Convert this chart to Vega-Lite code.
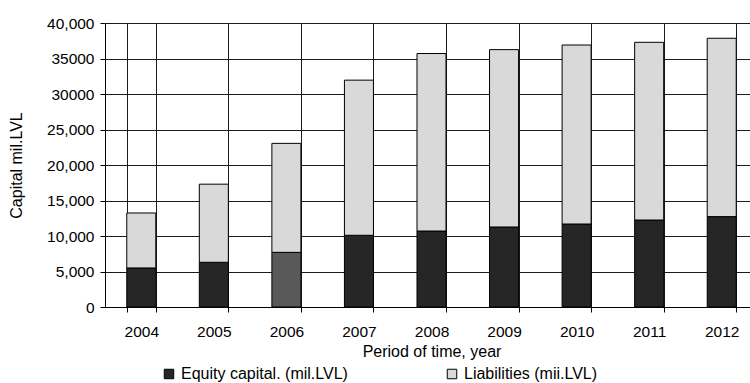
{
  "$schema": "https://vega.github.io/schema/vega-lite/v6.json",
  "width": 653,
  "height": 284,
  "autosize": {"type": "none"},
  "padding": {"left": 105, "top": 23, "right": -8, "bottom": 76},
  "background": "white",
  "config": {
    "font": "Liberation Sans",
    "view": {"stroke": null},
    "axis": {"labelColor": "#000", "titleColor": "#000", "titleFontWeight": "normal"}
  },
  "data": {
    "values": [
      {"year": "2004", "component": "Equity capital. (mil.LVL)", "value": 5500},
      {"year": "2004", "component": "Liabilities (mii.LVL)", "value": 7740},
      {"year": "2005", "component": "Equity capital. (mil.LVL)", "value": 6300},
      {"year": "2005", "component": "Liabilities (mii.LVL)", "value": 11000},
      {"year": "2006", "component": "Equity capital. (mil.LVL)", "value": 7700},
      {"year": "2006", "component": "Liabilities (mii.LVL)", "value": 15350},
      {"year": "2007", "component": "Equity capital. (mil.LVL)", "value": 10100},
      {"year": "2007", "component": "Liabilities (mii.LVL)", "value": 21850},
      {"year": "2008", "component": "Equity capital. (mil.LVL)", "value": 10700},
      {"year": "2008", "component": "Liabilities (mii.LVL)", "value": 25000},
      {"year": "2009", "component": "Equity capital. (mil.LVL)", "value": 11270},
      {"year": "2009", "component": "Liabilities (mii.LVL)", "value": 24980},
      {"year": "2010", "component": "Equity capital. (mil.LVL)", "value": 11690},
      {"year": "2010", "component": "Liabilities (mii.LVL)", "value": 25210},
      {"year": "2011", "component": "Equity capital. (mil.LVL)", "value": 12250},
      {"year": "2011", "component": "Liabilities (mii.LVL)", "value": 25030},
      {"year": "2012", "component": "Equity capital. (mil.LVL)", "value": 12730},
      {"year": "2012", "component": "Liabilities (mii.LVL)", "value": 25120}
    ]
  },
  "mark": {"type": "bar", "stroke": "#000", "strokeWidth": 1},
  "encoding": {
    "x": {
      "field": "year",
      "type": "ordinal",
      "scale": {"paddingInner": 0.6, "paddingOuter": 0.3},
      "axis": {
        "title": "Period of time, year",
        "labelAngle": 0,
        "tickBand": "extent",
        "grid": true,
        "gridColor": "#1a1a1a",
        "gridOpacity": 1,
        "domainColor": "#000",
        "tickColor": "#000",
        "tickSize": 5,
        "labelFontSize": 15.5,
        "labelPadding": 12,
        "titleFontSize": 16,
        "titlePadding": 4
      }
    },
    "y": {
      "field": "value",
      "type": "quantitative",
      "stack": "zero",
      "scale": {"domain": [0, 40000], "nice": false},
      "axis": {
        "title": "Capital mil.LVL",
        "values": [0, 5000, 10000, 15000, 20000, 25000, 30000, 35000, 40000],
        "labelExpr": "(datum.value == 35000 || datum.value == 30000) ? '' + datum.value : format(datum.value, ',')",
        "grid": true,
        "gridColor": "#1a1a1a",
        "gridOpacity": 1,
        "domainColor": "#000",
        "tickColor": "#000",
        "tickSize": 5,
        "labelFontSize": 15.5,
        "labelPadding": 6,
        "titleFontSize": 16,
        "titlePadding": 22
      }
    },
    "order": {"field": "component", "sort": "ascending"},
    "color": {
      "condition": {
        "test": "datum.year == '2006' && datum.component == 'Equity capital. (mil.LVL)'",
        "value": "#595959"
      },
      "field": "component",
      "type": "nominal",
      "scale": {
        "domain": ["Equity capital. (mil.LVL)", "Liabilities (mii.LVL)"],
        "range": ["#262626", "#d9d9d9"]
      },
      "legend": {
        "title": null,
        "orient": "none",
        "direction": "horizontal",
        "legendX": 56,
        "legendY": 343,
        "padding": 0,
        "symbolType": "square",
        "symbolSize": 90,
        "symbolStrokeColor": "#000",
        "symbolStrokeWidth": 1,
        "labelFontSize": 16,
        "labelColor": "#000",
        "labelLimit": 300,
        "columnPadding": 96
      }
    }
  }
}
